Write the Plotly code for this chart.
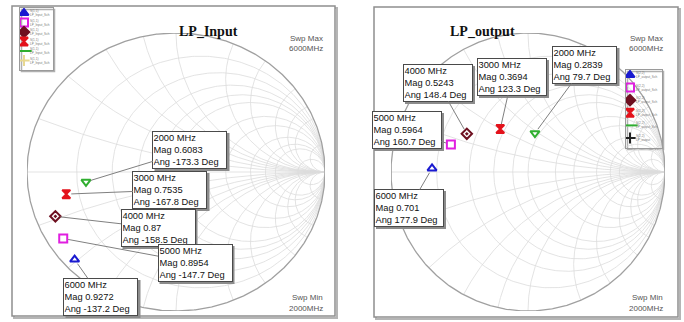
import numpy as np
import plotly.graph_objects as go

W, H = 684, 322

# ---------------- data ----------------
freqs_mhz = [2000, 3000, 4000, 5000, 6000]
in_mag = [0.6083, 0.7535, 0.87, 0.8954, 0.9272]
in_ang = [-173.3, -167.8, -158.5, -147.7, -137.2]
out_mag = [0.2839, 0.3694, 0.5243, 0.5964, 0.701]
out_ang = [79.7, 123.3, 148.4, 160.7, 177.9]

marker_colors = ["#2fae2f", "#e3121b", "#6e1020", "#e01fe0", "#1a1ad0"]
marker_symbols = ["triangle-down-open", "hourglass", "diamond-open-dot", "square-open", "triangle-up-open"]

legend_in_names = ["S(1,1)<br>LP_Input_Sch"] * 6
legend_out_names = ["S(2,2)<br>LP_output_Sch"] * 5 + ["S(2,2)<br>LP_output"]
legend_colors_in = ["#1a1ad0", "#e01fe0", "#6e1020", "#e3121b", "#2fae2f", "#e8d890"]
legend_colors_out = ["#1a1ad0", "#e01fe0", "#6e1020", "#e3121b", "#2fae2f", "#222222"]
legend_symbols = ["triangle-up", "square-open", "diamond", "hourglass", "line-ew-open", "cross-thin-open"]

r_grid = [0.2, 0.4, 0.6, 0.8, 1.0, 1.5, 2.0, 3.0, 4.0, 5.0, 10.0]
x_grid = [0.2, 0.4, 0.6, 0.8, 1.0, 1.5, 2.0, 3.0, 4.0, 5.0, 10.0]

# ---------------- layout geometry (pixels) ----------------
charts = {
    "in": dict(cx=176, cy=172, rx=149, ry=139, box=(12, 6, 335, 316), title="LP_Input",
               title_x=177, swp_x=325,
               labels=[(190, 150), (170, 190), (158, 228), (195, 263), (101, 297)],
               legend_box=(20, 8, 53, 70), legend_first=13, legend_step=9.5, legend_mx=24, legend_tx=28),
    "out": dict(cx=528, cy=172, rx=137, ry=139, box=(374, 7, 678, 317), title="LP_output",
                title_x=517, swp_x=665,
                labels=[(585, 65), (512, 77), (438, 83), (407, 130), (409, 208)],
                legend_box=(626, 70, 662, 148), legend_first=75, legend_step=12.6, legend_mx=630, legend_tx=634),
}
LBL_FONT = 9.3
LBL_H = 35
BPAD = 0.5

def px2paper_x(px):
    return px / W

def px2paper_y(py):
    return 1 - py / H

fig = go.Figure()

def smith_grid():
    xs, ys = [], []
    phi = np.linspace(0, 2 * np.pi, 361)
    for r in r_grid:
        c, R = r / (1 + r), 1 / (1 + r)
        xs += list(c + R * np.cos(phi)) + [None]
        ys += list(R * np.sin(phi)) + [None]
    rr = np.concatenate([[0.0], np.logspace(-3, 4, 400)])
    for x in x_grid:
        for s in (1, -1):
            z = rr + 1j * s * x
            g = (z - 1) / (z + 1)
            xs += list(g.real) + [None]
            ys += list(g.imag) + [None]
    xs += [-1, 1, None]
    ys += [0, 0, None]
    return xs, ys

gx, gy = smith_grid()
phi_o = np.linspace(0, 2 * np.pi, 721)

annotations = []
shapes = []

for idx, (key, mags, angs, names) in enumerate([
        ("in", in_mag, in_ang, legend_in_names),
        ("out", out_mag, out_ang, legend_out_names)]):
    c = charts[key]
    ax_id = "" if idx == 0 else "2"
    lg_id = "3" if idx == 0 else "4"
    xa, ya = "x" + ax_id, "y" + ax_id
    xl, yl = "x" + lg_id, "y" + lg_id

    # box with shadow
    x0, y0, x1, y1 = c["box"]
    shapes.append(dict(type="rect", xref="paper", yref="paper",
                       x0=px2paper_x(x0 + 2), x1=px2paper_x(x1 + 2),
                       y0=px2paper_y(y0 + 2), y1=px2paper_y(y1 + 2),
                       line=dict(color="#b5b5b5", width=2), layer="below"))
    shapes.append(dict(type="rect", xref="paper", yref="paper",
                       x0=px2paper_x(x0), x1=px2paper_x(x1),
                       y0=px2paper_y(y0), y1=px2paper_y(y1),
                       line=dict(color="#8f8f8f", width=1.5), fillcolor="white", layer="below"))

    dom_x = [px2paper_x(c["cx"] - c["rx"]), px2paper_x(c["cx"] + c["rx"])]
    dom_y = [px2paper_y(c["cy"] + c["ry"]), px2paper_y(c["cy"] - c["ry"])]
    axkw = dict(visible=False, range=[-1, 1], fixedrange=True)
    fig.update_layout(**{
        "xaxis" + ax_id: dict(domain=dom_x, anchor=ya, **axkw),
        "yaxis" + ax_id: dict(domain=dom_y, anchor=xa, **axkw),
    })

    fig.add_trace(go.Scatter(x=gx, y=gy, mode="lines", xaxis=xa, yaxis=ya,
                             line=dict(color="#dcdcdc", width=0.8),
                             hoverinfo="skip", showlegend=False))
    fig.add_trace(go.Scatter(x=np.cos(phi_o), y=np.sin(phi_o), mode="lines", xaxis=xa, yaxis=ya,
                             line=dict(color="#a0a0a0", width=1.3),
                             hoverinfo="skip", showlegend=False))

    gam = np.array(mags) * np.exp(1j * np.deg2rad(np.array(angs)))
    for i, f in enumerate(freqs_mhz):
        fig.add_trace(go.Scatter(x=[gam[i].real], y=[gam[i].imag], mode="markers",
                                 xaxis=xa, yaxis=ya, name=f"{f} MHz",
                                 marker=dict(symbol=marker_symbols[i], size=8,
                                             color=marker_colors[i],
                                             line=dict(color=marker_colors[i], width=2)),
                                 showlegend=False))
        mpx = c["cx"] + gam[i].real * c["rx"]
        mpy = c["cy"] - gam[i].imag * c["ry"]
        lx, ly = c["labels"][i]
        lines = [f"{f} MHz", f"Mag {mags[i]}", f"Ang {angs[i]} Deg"]
        lw = round(5.0 * max(len(s) for s in lines) + 2)
        bw = lw + 2 * BPAD + 2
        bh = LBL_H + 2 * BPAD + 2
        # drop shadow of the label box
        shapes.append(dict(type="rect", xref="paper", yref="paper", layer="above",
                           x0=px2paper_x(lx - bw / 2 + 2), x1=px2paper_x(lx + bw / 2 + 2),
                           y0=px2paper_y(ly - bh / 2 + 2), y1=px2paper_y(ly + bh / 2 + 2),
                           fillcolor="#8c8c8c", line=dict(width=0)))
        annotations.append(dict(x=gam[i].real, y=gam[i].imag, xref=xa, yref=ya, showarrow=True,
                                arrowhead=0, text="<br>".join(lines), align="left",
                                width=lw, height=LBL_H, borderwidth=1, borderpad=BPAD,
                                axref="pixel", ayref="pixel", standoff=5,
                                ax=lx - mpx, ay=ly - mpy,
                                arrowcolor="#808080", arrowwidth=1, bgcolor="white",
                                bordercolor="#4a4a4a",
                                font=dict(family="Liberation Sans, Arial", size=LBL_FONT, color="#111111")))

    annotations.append(dict(x=px2paper_x(c["title_x"]), y=px2paper_y(22), xref="paper", yref="paper",
                            text=f"<b>{c['title']}</b>", showarrow=False,
                            font=dict(family="Liberation Serif, Times New Roman", size=14, color="#111")))
    for txt, py in [("Swp Max", 38), ("6000MHz", 48), ("Swp Min", 297), ("2000MHz", 308)]:
        annotations.append(dict(x=px2paper_x(c["swp_x"]), y=px2paper_y(py), xref="paper", yref="paper",
                                text=txt, showarrow=False, xanchor="right", yanchor="middle",
                                font=dict(family="Liberation Sans, Arial", size=8, color="#555")))

    # manual legend
    bx0, by0, bx1, by1 = c["legend_box"]
    step = c["legend_step"]
    top_v = -(c["legend_first"] - by0) / step
    bot_v = top_v + (by1 - by0) / step
    fig.update_layout(**{
        "xaxis" + lg_id: dict(domain=[px2paper_x(bx0), px2paper_x(bx1)], range=[bx0, bx1],
                              anchor=yl, showline=True, mirror=True, linecolor="#9a9a9a",
                              linewidth=1, showgrid=False, zeroline=False, showticklabels=False,
                              ticks="", fixedrange=True),
        "yaxis" + lg_id: dict(domain=[px2paper_y(by1), px2paper_y(by0)], range=[bot_v, top_v],
                              anchor=xl, showline=True, mirror=True, linecolor="#9a9a9a",
                              linewidth=1, showgrid=False, zeroline=False, showticklabels=False,
                              ticks="", fixedrange=True),
    })
    lcols = legend_colors_in if idx == 0 else legend_colors_out
    rows = list(range(len(legend_symbols)))
    shapes.append(dict(type="rect", xref="paper", yref="paper",
                       x0=px2paper_x(bx0 + 1.5), x1=px2paper_x(bx1 + 1.5),
                       y0=px2paper_y(by0 + 1.5), y1=px2paper_y(by1 + 1.5),
                       line=dict(color="#b0b0b0", width=1.5), fillcolor="white", layer="below"))
    for j in rows:
        fig.add_trace(go.Scatter(x=[c["legend_mx"]], y=[j], mode="markers", xaxis=xl, yaxis=yl,
                                 marker=dict(symbol=legend_symbols[j], size=8 if j != 4 else 11,
                                             color=lcols[j], line=dict(color=lcols[j], width=2)),
                                 hoverinfo="skip", showlegend=False))
        annotations.append(dict(x=c["legend_tx"], y=j, xref=xl, yref=yl, text=names[j],
                                showarrow=False, xanchor="left", yanchor="middle", align="left",
                                font=dict(family="Liberation Sans, Arial", size=3.1, color="#777")))

fig.update_layout(width=W, height=H, margin=dict(l=0, r=0, t=0, b=0),
                  paper_bgcolor="white", plot_bgcolor="rgba(0,0,0,0)",
                  showlegend=False, annotations=annotations, shapes=shapes)

fig.write_html("out.html")
